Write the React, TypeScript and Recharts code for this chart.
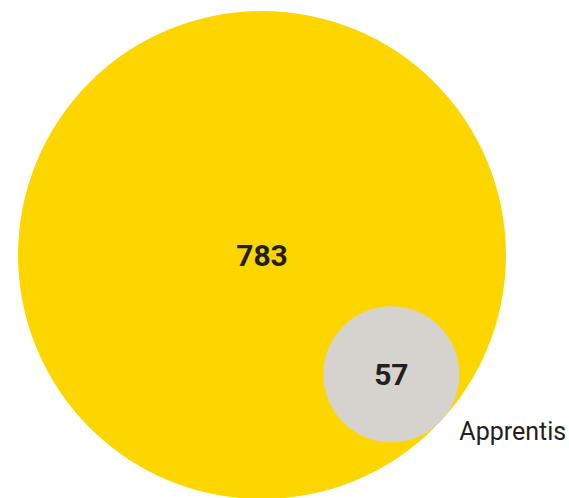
import React from "react";
import { ScatterChart, Scatter, XAxis, YAxis, ZAxis, Cell } from "recharts";

// --- data ---
const groupNames = ["", "Apprentis"];
const groupValues = [783, 57];
const groupColors = ["#FDD600", "#D6D3CF"];

// --- layout constants ---
const W = 561;
const H = 490;
const BIG_R = 244; // px radius of the largest circle
const MIN_AREA = 980; // small floor so tiny groups stay readable
const CENTER = { x: 254, y: 247 }; // px centre of the largest circle
const ANGLE = (42.7 * Math.PI) / 180; // where the small circle touches the big one

const maxValue = Math.max(...groupValues);
const maxArea = Math.PI * BIG_R * BIG_R;

// same mapping as the ZAxis below (linear on area)
const radiusOf = (v: number) =>
  Math.sqrt((MIN_AREA + ((maxArea - MIN_AREA) * v) / maxValue) / Math.PI);

// small circles sit inside the big one, tangent to its edge (axis units = px)
const chartData = groupValues.map((v, i) => {
  const d = i === 0 ? 0 : radiusOf(groupValues[0]) - radiusOf(v);
  return {
    name: groupNames[i],
    value: v,
    x: d * Math.cos(ANGLE),
    y: -d * Math.sin(ANGLE),
  };
});

function Bubble(props: any) {
  const { cx, cy, width, payload, fill } = props;
  const r = width / 2;
  return (
    <g>
      <circle cx={cx} cy={cy} r={r} fill={fill} />
      <text
        x={cx}
        y={cy}
        textAnchor="middle"
        dominantBaseline="central"
        fontFamily="Roboto, sans-serif"
        fontWeight={700}
        fontSize={30}
        fill="#231F20"
      >
        {payload.value}
      </text>
      {payload.name ? (
        <text
          x={cx + r}
          y={cy + r * 0.97}
          textAnchor="start"
          fontFamily="Roboto, sans-serif"
          fontSize={25}
          fill="#231F20"
        >
          {payload.name}
        </text>
      ) : null}
    </g>
  );
}

export default function App() {
  // absolute so the page never gets scrollbars (chart fills the window)
  return (
    <div style={{ position: "absolute", left: 8, top: 8, width: W, height: H }}>
      <ScatterChart
        width={W}
        height={H}
        margin={{ top: 0, right: 0, bottom: 0, left: 0 }}
        style={{ overflow: "visible" }}
      >
        <XAxis
          type="number"
          dataKey="x"
          hide
          domain={[-CENTER.x, W - CENTER.x]}
          allowDataOverflow
        />
        <YAxis
          type="number"
          dataKey="y"
          hide
          domain={[-(H - CENTER.y), CENTER.y]}
          allowDataOverflow
        />
        <ZAxis
          type="number"
          dataKey="value"
          domain={[0, maxValue]}
          range={[MIN_AREA, maxArea]}
        />
        <Scatter data={chartData} shape={(p: any) => <Bubble {...p} />} isAnimationActive={false}>
          {chartData.map((d, i) => (
            <Cell key={d.name + i} fill={groupColors[i]} />
          ))}
        </Scatter>
      </ScatterChart>
    </div>
  );
}
